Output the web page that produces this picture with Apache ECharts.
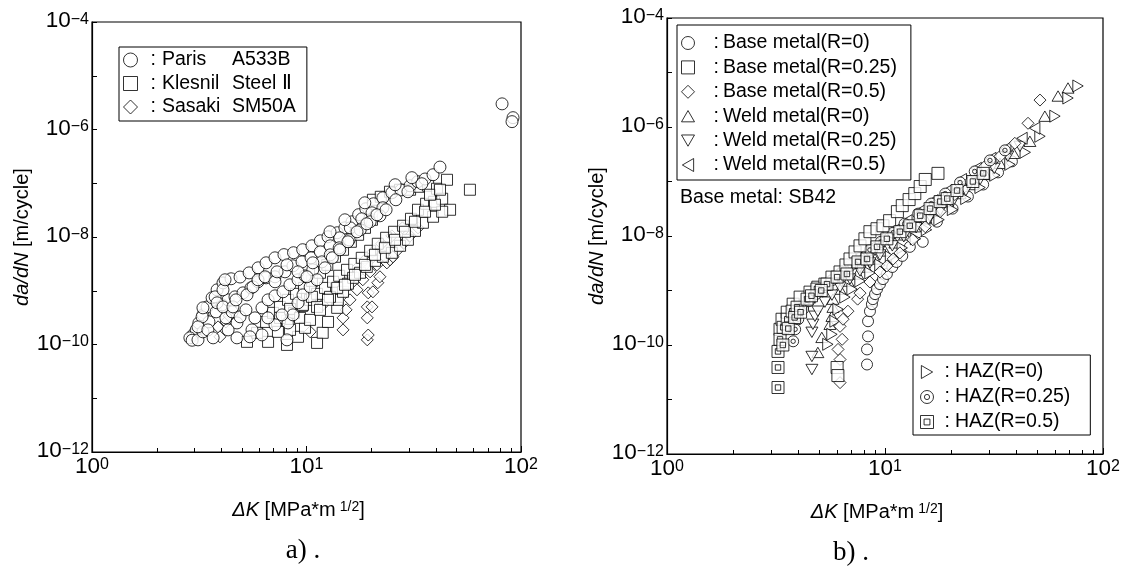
<!DOCTYPE html>
<html>
<head>
<meta charset="utf-8">
<script src="https://cdn.jsdelivr.net/npm/echarts@6/dist/echarts.min.js"></script>
<style>
html, body { margin: 0; padding: 0; background: #fff; }
#chart { width: 1127px; height: 569px; }
</style>
</head>
<body>
<div id="chart"></div>
<script>
// ---- a) literature data: [ΔK (MPa·m^1/2), da/dN (m/cycle)] ----
const parisA533B = [
  [2.96,1.51e-10],[3.06,1.87e-10],[3.15,2.52e-10],[3.29,3.56e-10],[3.44,5.0e-10],[3.63,7.4e-10],
  [3.83,1.04e-9],[4.08,1.40e-9],[4.45,1.67e-9],[4.90,1.80e-9],[5.40,2.15e-9],[5.95,2.67e-9],
  [6.48,3.31e-9],[7.13,4.1e-9],[7.85,4.7e-9],[8.7,5.1e-9],[9.6,5.8e-9],[10.6,6.86e-9],
  [11.6,8.5e-9],[12.6,1.01e-8],[13.9,1.2e-8],[15.1,1.48e-8],[16.3,1.92e-8],[17.5,2.6e-8],
  [18.9,3.35e-8],[20.5,4.15e-8],[22.7,5.37e-8],[25.0,6.65e-8],[27.6,7.5e-8],[30.4,8.98e-8],
  [33.0,1.07e-7],[35.7,1.2e-7],[38.9,1.44e-7],[41.9,2.0e-7],
  [2.86,1.33e-10],[2.93,1.2e-10],
  [3.12,1.22e-10],[3.29,1.72e-10],[3.51,2.64e-10],[3.79,4.05e-10],[4.04,5.46e-10],[4.31,6.77e-10],
  [4.64,7.7e-10],[5.06,9.14e-10],[5.51,1.13e-9],[5.94,1.47e-9],[6.48,1.74e-9],[7.13,1.82e-9],
  [7.94,2.25e-9],[8.65,2.91e-9],[9.53,3.45e-9],[10.5,4.1e-9],[11.6,5.3e-9],[12.9,6.86e-9],
  [14.3,9.66e-9],[16.0,1.48e-8],[18.1,2.18e-8],[20.2,2.82e-8],[22.7,3.5e-8],[26.1,4.93e-8],
  [29.7,6.95e-8],[34.5,9.79e-8],
  [4.21,3.13e-10],[4.50,4.05e-10],[4.74,2.52e-10],[4.90,3.27e-10],[5.22,4.41e-10],[5.57,1.87e-10],
  [5.75,3.13e-10],[6.20,4.81e-10],[6.62,6.77e-10],[7.13,8.04e-10],[7.77,9.55e-10],[8.37,1.29e-9],
  [9.13,1.60e-9],[9.84,1.89e-9],[10.7,2.45e-9],[11.8,3.45e-9],[12.9,4.66e-9],[14.2,6.29e-9],
  [15.8,8.87e-9],[17.8,1.36e-8],[19.8,1.92e-8],[22.0,2.48e-8],
  [4.74,1.33e-10],[5.45,1.39e-10],[8.11,1.22e-10],[8.20,2.52e-10],[8.65,3.56e-10],[9.13,5.96e-10],
  [9.63,8.39e-10],[10.4,1.18e-9],[11.2,1.60e-9],[12.2,2.67e-9],[13.2,4.10e-9],[14.3,5.78e-9],
  [15.6,8.15e-9],[17.2,1.25e-8],[19.1,1.76e-8],[21.3,2.59e-8],[23.5,3.21e-8],
  [3.75,7.70e-10],[4.08,1.04e-9],[4.17,1.60e-9],[3.83,5.96e-10],[4.08,5.01e-10],[4.54,5.01e-10],
  [4.69,6.77e-10],[5.28,8.39e-10],[5.63,1.18e-9],[5.94,1.60e-9],[6.41,1.82e-9],[7.13,1.47e-9],
  [7.29,2.25e-9],[8.11,3.03e-9],[9.13,2.25e-9],[10.05,1.82e-9],[10.7,3.31e-9],[3.26,3.27e-10],
  [3.29,4.81e-10],[3.12,2.13e-10],[3.47,1.87e-10],[3.67,1.33e-10],[4.31,1.87e-10],[6.20,1.51e-10],
  [7.13,2.32e-10],[7.69,3.56e-10],[6.61,3.13e-10],[15.1,2.09e-8],[12.87,1.25e-8],[18.7,4.33e-8],
  [25.9,9.38e-8],[31.0,1.27e-7],
  [81.6,3.0e-6],[91.8,1.66e-6],[90.8,1.40e-6]
];
const klesnilSteel2 = [
  [5.28,1.12e-10],[5.88,1.65e-10],[6.48,2.63e-10],[6.98,3.88e-10],[7.52,5.01e-10],[8.20,6.77e-10],
  [8.94,8.76e-10],[9.74,1.13e-9],[10.6,1.53e-9],[11.56,2.16e-9],[12.5,3.03e-9],[13.58,4.28e-9],
  [14.8,5.78e-9],[16.1,8.14e-9],[17.4,1.10e-8],[18.74,1.48e-8],[20.2,2.09e-8],[20.4,4.93e-8],
  [22.2,5.6e-8],[24.5,6.95e-8],[27.3,7.57e-8],[30.4,7.57e-8],[33.5,8.6e-8],[36.9,8.98e-8],
  [40.6,7.9e-8],[45.2,1.16e-7],
  [6.62,1.12e-10],[7.36,1.72e-10],[8.11,2.75e-10],[8.75,3.88e-10],[9.54,5.23e-10],[10.38,6.77e-10],
  [11.2,8.76e-10],[12.2,1.13e-9],[13.3,1.47e-9],[14.2,1.90e-9],[15.45,2.45e-9],[16.7,3.16e-9],
  [18.1,4.10e-9],[19.8,5.54e-9],[21.5,7.48e-9],[23.5,9.67e-9],[25.6,1.25e-8],[28.2,1.62e-8],
  [30.7,2.18e-8],[33.1,3.21e-8],[36.1,4.15e-8],[39.3,4.52e-8],[42.9,5.15e-8],[46.7,3.21e-8],
  [57.8,7.57e-8],
  [8.11,9.83e-11],[9.13,1.39e-10],[9.84,2.04e-10],[11.2,1.07e-10],[11.9,1.65e-10],[12.6,2.63e-10],
  [13.9,4.81e-10],[14.0,6.77e-10],[14.8,9.55e-10],[15.6,1.35e-9],[16.5,1.74e-9],[17.76,2.16e-9],
  [19.1,2.78e-9],[20.86,3.60e-9],[22.7,4.28e-9],[25.0,5.08e-9],[27.3,6.86e-9],[29.7,8.87e-9],
  [32.05,1.30e-8],[34.9,1.84e-8],[38.9,2.38e-8],[42.9,2.95e-8],
  [7.52,3.13e-10],[8.38,4.60e-10],[9.33,3.13e-10],[9.63,5.46e-10],[10.6,7.70e-10],[11.2,5.01e-10],
  [12.87,7.70e-10],[13.9,1.13e-9],
  [8.38,1.87e-10],[10.38,2.87e-10],[11.56,4.41e-10],[12.6,6.77e-10],[15.12,1.29e-9],[16.83,1.98e-9],
  [18.74,3.03e-9],[20.86,4.66e-9],[23.2,6.3e-9],[25.86,8.87e-9],[28.79,1.25e-8],[32.05,1.92e-8],
  [35.69,2.95e-8],[39.72,3.98e-8],[37.65,6.11e-8],[41.92,7.57e-8]
];
const sasakiSM50A = [
  [19.2,1.22e-10],[19.4,1.5e-10],[19.2,3.13e-10],[19.2,5.01e-10],[20.2,5.01e-10],[19.4,9.14e-10],
  [20.4,9.55e-10],[21.5,1.41e-9],[22.0,1.82e-9],[23.7,3.30e-9],[24.5,3.76e-9],[25.3,4.28e-9],
  [26.7,5.78e-9],[28.5,7.8e-9],[30.4,1.05e-8],[33.1,1.48e-8],
  [14.8,1.87e-10],[14.8,3.13e-10],[15.3,4.41e-10],[15.95,6.77e-10],[17.2,1.04e-9],[18.3,1.60e-9],
  [19.8,2.25e-9],[21.3,3.03e-9],[23.2,4.28e-9],
  [3.87,2.13e-10],[3.95,1.39e-10],[4.21,2.63e-10],[4.36,3.41e-10],[10.4,1.72e-10],[11.9,5.46e-10],
  [16.5,1.82e-9],[17.4,2.78e-9],[18.74,3.76e-9],[20.4,5.3e-9],[22.4,7.48e-9],[25.0,1.05e-8],[28.0,1.48e-8]
];

// ---- b) SB42 weld joint data: [ΔK, da/dN] ----
const baseR0 = [
  [8.27,4.39e-11],[8.27,8.30e-11],[8.36,1.44e-10],[8.36,2.73e-10],[8.53,4.17e-10],[8.71,5.61e-10],
  [8.80,6.94e-10],[9.00,8.58e-10],[9.19,1.06e-9],[9.48,1.31e-9],[9.79,1.62e-9],[10.2,2.01e-9],
  [10.8,2.70e-9],[11.3,3.34e-9],[12.0,4.31e-9],[13.0,6.32e-9],[14.9,7.82e-9],[17.3,1.83e-8],
  [20.4,3.18e-8],[24.0,5.29e-8],[28.2,8.8e-8],[33.0,1.47e-7],[38.2,2.34e-7]
];
const baseR025 = [
  [3.30,1.94e-10],[3.37,2.97e-10],[3.56,4.0e-10],[3.79,5.61e-10],[4.08,7.56e-10],[4.53,9.34e-10],
  [4.92,1.15e-9],[5.30,1.31e-9],[5.71,1.76e-9],[6.22,2.19e-9],[6.62,2.94e-9],[6.91,3.79e-9],
  [7.29,5.1e-9],[7.68,6.59e-9],[8.09,8.88e-9],[8.53,1.20e-8],[9.19,1.36e-8],[9.79,1.54e-8],
  [10.5,1.91e-8],[11.4,2.80e-8],[12.0,3.61e-8],[12.9,4.66e-8],[13.7,6.0e-8],[14.5,8.09e-8],
  [15.3,1.09e-7],[17.5,1.41e-7],[6.03,3.87e-11],[6.08,2.75e-11]
];
const baseR05 = [
  [6.22,2.04e-11],[6.22,5.42e-11],[6.09,8.30e-11],[6.36,1.27e-10],[6.22,2.20e-10],[6.42,2.97e-10],
  [6.76,4.17e-10],[7.49,6.94e-10],[7.68,8.95e-10],[8.53,1.43e-9],[9.48,2.19e-9],[10.2,2.82e-9],
  [10.9,3.79e-9],[11.7,4.89e-9],[13.4,8.51e-9],[15.3,1.48e-8],[17.9,2.80e-8],[20.9,5.76e-8],
  [24.5,1.0e-7],[28.7,1.89e-7],[33.7,2.90e-7],[39.4,5.02e-7],[45.3,1.17e-6],[51.4,3.12e-6]
];
const weldR0 = [
  [4.92,7.31e-11],[5.13,1.38e-10],[5.59,2.40e-10],[5.71,3.37e-10],[5.77,4.94e-10],[5.77,6.94e-10],
  [6.22,1.06e-9],[6.76,1.49e-9],[7.49,2.01e-9],[8.18,2.70e-9],[9.0,3.79e-9],[10.0,5.33e-9],
  [11.1,7.49e-9],[12.3,1.05e-8],[13.7,1.48e-8],[15.3,2.08e-8],[16.9,2.92e-8],[19.4,4.28e-8],
  [22.1,6.01e-8],[25.3,8.8e-8],[28.9,1.35e-7],[33.7,2.15e-7],[38.9,3.29e-7],[46.2,5.47e-7],
  [54.1,1.58e-6],[62.2,3.70e-6],[69.1,5.2e-6]
];
const weldR025 = [
  [4.62,3.55e-11],[4.62,6.16e-11],[4.62,1.71e-10],[4.67,2.40e-10],[4.77,3.37e-10],[4.92,4.17e-10],
  [5.30,6.11e-10],[5.71,8.22e-10],[6.22,1.15e-9],[6.91,1.62e-9],[7.68,2.28e-9],[8.53,3.20e-9],
  [9.48,4.49e-9],[10.8,6.59e-9],[12.2,9.67e-9],[13.9,1.42e-8],[15.8,1.99e-8],[17.9,2.92e-8],
  [20.6,4.46e-8],[23.5,6.82e-8],[27.3,1.09e-7],[31.7,1.74e-7],[36.6,2.90e-7],[41.6,4.42e-7]
];
const weldR05 = [
  [3.67,2.97e-10],[3.91,4.17e-10],[4.21,5.61e-10],[4.53,7.56e-10],[4.92,9.73e-10],[5.36,1.31e-9],
  [5.84,1.76e-9],[6.36,2.38e-9],[7.06,3.20e-9],[7.84,4.49e-9],[8.71,6.32e-9],[9.79,8.88e-9],
  [11.1,1.30e-8],[12.6,1.91e-8],[14.5,2.92e-8],[16.6,4.46e-8],[19.3,6.82e-8],[22.4,1.09e-7],
  [26.2,1.74e-7],[30.6,2.66e-7],[35.8,4.06e-7],[42.5,6.21e-7],[48.6,9.5e-7]
];
const hazR0 = [
  [5.47,1.03e-10],[5.71,1.57e-10],[5.90,2.73e-10],[6.09,4.54e-10],[6.55,7.56e-10],[7.06,1.06e-9],
  [7.68,1.49e-9],[8.53,2.10e-9],[9.48,2.94e-9],[10.6,4.13e-9],[12.0,6.05e-9],[13.8,8.88e-9],
  [15.5,1.30e-8],[17.7,1.99e-8],[20.4,3.05e-8],[23.5,4.86e-8],[27.3,7.75e-8],[31.9,1.30e-7],
  [37.4,2.06e-7],[44.0,3.43e-7],[51.4,6.76e-7],[60.2,1.58e-6],[69.1,3.40e-6],[76.8,5.66e-6]
];
const hazR025 = [
  [3.79,1.17e-10],[3.87,1.94e-10],[4.0,2.97e-10],[4.21,4.54e-10],[4.48,6.37e-10],[4.82,8.58e-10],
  [5.25,1.15e-9],[5.71,1.55e-9],[6.29,2.10e-9],[6.91,2.82e-9],[7.68,3.95e-9],[8.53,5.56e-9],
  [9.58,7.82e-9],[10.9,1.15e-8],[12.3,1.68e-8],[14.2,2.57e-8],[16.3,3.93e-8],[18.9,6.0e-8],
  [22.1,9.6e-8],[25.8,1.53e-7],[30.3,2.44e-7],[35.5,3.73e-7]
];
const hazR05 = [
  [3.23,1.66e-11],[3.23,3.87e-11],[3.23,7.62e-11],[3.30,1.27e-10],[3.41,2.11e-10],[3.56,2.97e-10],
  [3.75,4.17e-10],[3.95,4.94e-10],[4.39,6.94e-10],[4.87,1.06e-9],[5.42,1.31e-9],[6.03,1.76e-9],
  [6.69,2.01e-9],[7.52,3.34e-9],[8.27,3.79e-9],[9.19,6.32e-9],[10.2,8.88e-9],[11.7,1.20e-8],
  [13.0,1.54e-8],[14.5,2.36e-8],[16.1,3.18e-8],[17.9,4.28e-8],[19.3,4.86e-8],[21.4,6.82e-8],
  [25.3,1.0e-7],[28.2,1.41e-7],
  [3.4,1.0e-10],[3.6,2.0e-10],[3.85,3.2e-10],[4.1,4.0e-10],[4.6,8.0e-10],[5.1,1.0e-9]
];

// axis ranges and minor tick positions
const xRange = [1, 100];
const yRange = [1e-12, 1e-4];
const xMinorTicks = [2, 3, 4, 5, 6, 7, 8, 9, 20, 30, 40, 50, 60, 70, 80, 90];

// legend texts
const leftLegend = [
  ['Paris', 'A533B'],
  ['Klesnil', 'Steel \u2161'],
  ['Sasaki', 'SM50A']
];
const rightLegendMain = ['Base metal(R=0)', 'Base metal(R=0.25)', 'Base metal(R=0.5)',
  'Weld metal(R=0)', 'Weld metal(R=0.25)', 'Weld metal(R=0.5)'];
const rightLegendHaz = ['HAZ(R=0)', 'HAZ(R=0.25)', 'HAZ(R=0.5)'];

const FONT = '"Liberation Sans", Arial, Helvetica, sans-serif';
const SERIF = '"Liberation Serif", "Times New Roman", serif';
const LEG_FS = 19.5;
const NAME_FS = 20;

// marker shapes
const SYM_UP = 'path://M5,0L10,8.66L0,8.66Z';
const SYM_DOWN = 'path://M0,0L10,0L5,8.66Z';
const SYM_LEFT = 'path://M0,5L8.66,0L8.66,10Z';
const SYM_RIGHT = 'path://M0,0L8.66,5L0,10Z';
const SYM_DCIRCLE = 'path://M10,0A10,10,0,1,1,10,20A10,10,0,1,1,10,0ZM10,6A4,4,0,1,1,10,14A4,4,0,1,1,10,6Z';
const SYM_DSQUARE = 'path://M0,0L20,0L20,20L0,20ZM5.5,5.5L14.5,5.5L14.5,14.5L5.5,14.5Z';

function powLabel(v, skipOdd) {
  const e = Math.round(Math.log10(v));
  if (skipOdd && e % 2 !== 0) return '';
  return '{b|10}{s|' + String(e).replace('-', '\u2212') + '}';
}

const powRich = {
  b: { fontSize: 22.5, lineHeight: 21, verticalAlign: 'bottom', fontFamily: FONT, color: '#000' },
  s: { fontSize: 16, lineHeight: 15, padding: [0, 0, 10, 0], verticalAlign: 'top', fontFamily: FONT, color: '#000' }
};

function xAxisFor(gridIndex) {
  return {
    type: 'log', logBase: 10, gridIndex: gridIndex,
    min: xRange[0], max: xRange[1],
    name: '{i|\u0394K}{n| [MPa*m}{s|1/2}{n|]}',
    nameLocation: 'middle', nameGap: 48,
    nameTextStyle: {
      padding: [0, 16, 0, 0],
      rich: {
        i: { fontSize: NAME_FS, fontStyle: 'italic', fontFamily: FONT, color: '#000', lineHeight: 20, verticalAlign: 'bottom' },
        n: { fontSize: NAME_FS, fontFamily: FONT, color: '#000', lineHeight: 20, verticalAlign: 'bottom' },
        s: { fontSize: 14, fontFamily: FONT, color: '#000', lineHeight: 14, padding: [0, 0, 9, 4], verticalAlign: 'top' }
      }
    },
    axisLine: { show: true, lineStyle: { color: '#000', width: 1.2 } },
    axisTick: { show: true, inside: true, length: 6, lineStyle: { color: '#000', width: 1 } },
    axisLabel: { margin: 5, formatter: v => powLabel(v, false), rich: powRich },
    splitLine: { show: false }
  };
}

function yAxisFor(gridIndex, gap) {
  return {
    type: 'log', logBase: 10, gridIndex: gridIndex,
    min: yRange[0], max: yRange[1], splitNumber: 8,
    name: '{i|da/dN}{n| [m/cycle]}',
    nameLocation: 'middle', nameGap: gap, nameRotate: 90,
    nameTextStyle: {
      rich: {
        i: { fontSize: NAME_FS, fontStyle: 'italic', fontFamily: FONT, color: '#000' },
        n: { fontSize: NAME_FS, fontFamily: FONT, color: '#000' }
      }
    },
    axisLine: { show: true, lineStyle: { color: '#000', width: 1.2 } },
    axisTick: { show: true, inside: true, length: 5, lineStyle: { color: '#000', width: 1 } },
    axisLabel: { margin: 3, formatter: v => powLabel(v, true), rich: powRich },
    splitLine: { show: false }
  };
}

const markerStyle = { color: '#fff', borderColor: '#000', borderWidth: 1 };

function scatter(name, data, symbol, size, axisIndex) {
  return {
    type: 'scatter', name: name, data: data,
    xAxisIndex: axisIndex, yAxisIndex: axisIndex,
    symbol: symbol, symbolSize: size, symbolKeepAspect: true,
    itemStyle: markerStyle, silent: true,
    emphasis: { disabled: true }
  };
}

const legendBase = {
  orient: 'vertical', selectedMode: false,
  borderColor: '#000', borderWidth: 1, backgroundColor: '#fff',
  itemWidth: 14, itemHeight: 14,
  itemStyle: { borderWidth: 1 },
  inactiveColor: '#000'
};

function legendText(colonPad) {
  return {
    fontSize: LEG_FS, fontFamily: FONT, color: '#000', lineHeight: 20,
    rich: {
      c: { fontSize: LEG_FS, fontFamily: FONT, color: '#000', padding: colonPad },
      n: { fontSize: LEG_FS, fontFamily: FONT, color: '#000' },
      w: { fontSize: LEG_FS, fontFamily: FONT, color: '#000', width: 70 },
      m: { fontSize: LEG_FS, fontFamily: FONT, color: '#000' }
    }
  };
}

const chart = echarts.init(document.getElementById('chart'), null, { renderer: 'canvas' });

const option = {
  animation: false,
  backgroundColor: '#fff',
  grid: [
    { left: 92, top: 22, width: 429, height: 430, show: true, borderColor: '#000', borderWidth: 1.2, containLabel: false, outerBoundsMode: 'none' },
    { left: 667, top: 18, width: 436, height: 436, show: true, borderColor: '#000', borderWidth: 1.2, containLabel: false, outerBoundsMode: 'none' }
  ],
  xAxis: [xAxisFor(0), xAxisFor(1)],
  yAxis: [yAxisFor(0, 59), yAxisFor(1, 55)],
  legend: [
    Object.assign({}, legendBase, {
      data: leftLegend.map(r => r[0]),
      left: 119, top: 47, itemGap: 3.5, padding: [3, 11, 4, 4],
      formatter: name => {
        const row = leftLegend.find(r => r[0] === name);
        return '{c|:}{w|' + row[0] + '}{m|' + row[1] + '}';
      },
      textStyle: legendText([0, 6, 0, 8])
    }),
    Object.assign({}, legendBase, {
      data: rightLegendMain,
      left: 677, top: 25, itemGap: 4.4, padding: [8, 14, 5, 4],
      itemWidth: 13, itemHeight: 13,
      formatter: name => '{c|:}{n|' + name + '}',
      textStyle: legendText([0, 4, 0, 14])
    }),
    Object.assign({}, legendBase, {
      data: rightLegendHaz,
      left: 913, top: 355, itemGap: 5, padding: [7, 20, 3, 7],
      itemWidth: 13, itemHeight: 13,
      formatter: name => '{c|:}{n|' + name + '}',
      textStyle: legendText([0, 5, 0, 6])
    })
  ],
  series: [
    scatter('Sasaki', sasakiSM50A, 'diamond', 12, 0),
    scatter('Klesnil', klesnilSteel2, 'rect', 11, 0),
    scatter('Paris', parisA533B, 'circle', 12, 0),

    scatter('Base metal(R=0)', baseR0, 'circle', 11, 1),
    scatter('Weld metal(R=0)', weldR0, SYM_UP, 12, 1),
    scatter('HAZ(R=0)', hazR0, SYM_RIGHT, 12, 1),
    scatter('Weld metal(R=0.25)', weldR025, SYM_DOWN, 12, 1),
    scatter('Weld metal(R=0.5)', weldR05, SYM_LEFT, 12, 1),
    scatter('Base metal(R=0.5)', baseR05, 'diamond', 12, 1),
    scatter('HAZ(R=0.25)', hazR025, SYM_DCIRCLE, 11, 1),
    scatter('Base metal(R=0.25)', baseR025, 'rect', 12, 1),
    scatter('HAZ(R=0.5)', hazR05, SYM_DSQUARE, 12, 1)
  ],
  graphic: [
    { type: 'text', x: 303, y: 551, style: { text: 'a) .', font: '27px ' + SERIF, fill: '#000', align: 'center', verticalAlign: 'middle', textAlign: 'center', textVerticalAlign: 'middle' } },
    { type: 'text', x: 851, y: 553, style: { text: 'b) .', font: '27px ' + SERIF, fill: '#000', align: 'center', verticalAlign: 'middle', textAlign: 'center', textVerticalAlign: 'middle' } },
    { type: 'text', x: 680, y: 198, style: { text: 'Base metal: SB42', font: LEG_FS + 'px ' + FONT, fill: '#000', align: 'left', verticalAlign: 'middle', textAlign: 'left', textVerticalAlign: 'middle' } }
  ]
};

chart.setOption(option);

// minor ticks on the log ΔK axes (2..9, 20..90), pointing into the plot
const minorTicks = [];
[0, 1].forEach(g => {
  const yb = chart.convertToPixel({ yAxisIndex: g }, yRange[0]);
  xMinorTicks.forEach(k => {
    const x = Math.round(chart.convertToPixel({ xAxisIndex: g }, k)) + 0.5;
    minorTicks.push({
      type: 'line', silent: true,
      shape: { x1: x, y1: yb, x2: x, y2: yb - 4 },
      style: { stroke: '#000', lineWidth: 1 }
    });
  });
});
chart.setOption({ graphic: option.graphic.concat(minorTicks) });
</script>
</body>
</html>
